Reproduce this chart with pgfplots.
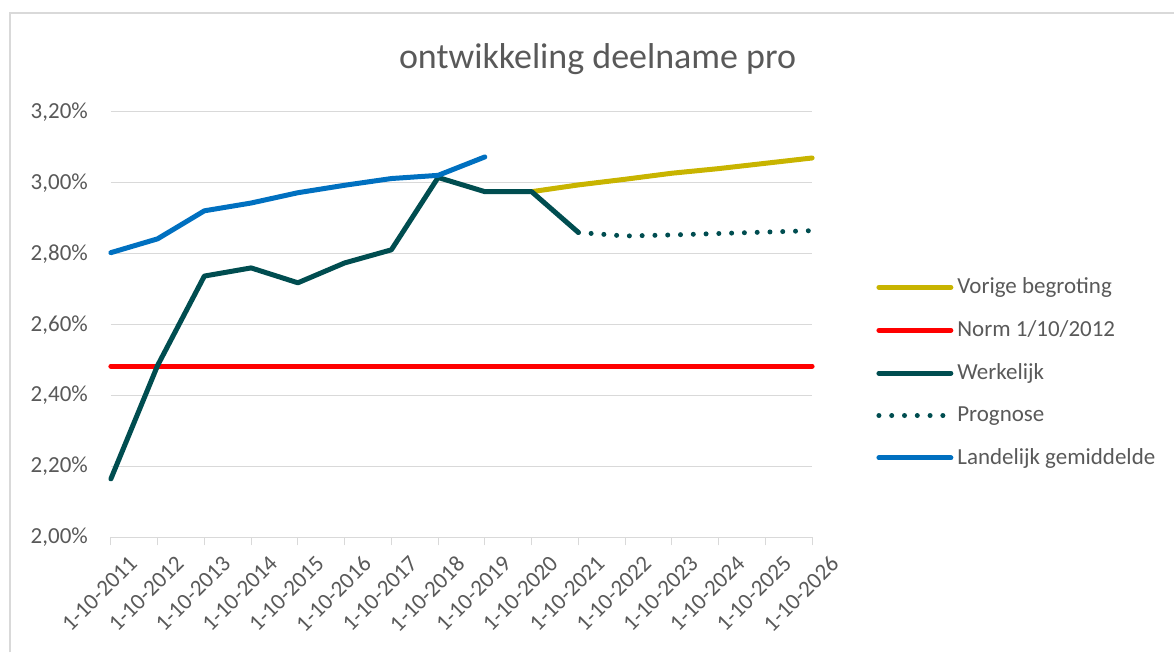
\documentclass[border=0pt]{standalone}
\usepackage{fontspec}
\setmainfont{Carlito}
\usepackage{pgfplots}
\pgfplotsset{compat=1.18}

\definecolor{txtgray}{HTML}{595959}
\definecolor{gridgray}{HTML}{D9D9D9}
\definecolor{vorige}{HTML}{C8B400}
\definecolor{norm}{HTML}{FF0000}
\definecolor{werk}{HTML}{004D50}
\definecolor{land}{HTML}{0070C0}

\begin{document}
\begin{tikzpicture}
\begin{axis}[
  scale only axis,
  width=351pt, height=213pt,
  xmin=0, xmax=15, ymin=2.0, ymax=3.2,
  clip=false,
  axis x line*=bottom, axis y line*=left,
  x axis line style={gridgray, line width=0.6pt},
  y axis line style={draw=none},
  xtick={0,...,15},
  xticklabels={1-10-2011,1-10-2012,1-10-2013,1-10-2014,1-10-2015,1-10-2016,1-10-2017,1-10-2018,
               1-10-2019,1-10-2020,1-10-2021,1-10-2022,1-10-2023,1-10-2024,1-10-2025,1-10-2026},
  xticklabel style={rotate=45, anchor=north east, font=\fontsize{11.5}{13}\selectfont, text=txtgray, inner sep=1pt, xshift=4pt, yshift=-8pt},
  major tick length=4pt,
  tick align=outside,
  x tick style={gridgray, line width=0.6pt},
  y tick style={draw=none},
  ytick={2.0,2.2,2.4,2.6,2.8,3.0,3.2},
  yticklabels={{2,00\%},{2,20\%},{2,40\%},{2,60\%},{2,80\%},{3,00\%},{3,20\%}},
  yticklabel style={font=\fontsize{11.5}{13}\selectfont, text=txtgray, xshift=-4pt},
  ymajorgrids, grid style={gridgray, line width=0.6pt},
  title={ontwikkeling deelname pro},
  title style={at={(rel axis cs:0.694,1.097)}, anchor=center, font=\fontsize{18}{21}\selectfont, text=txtgray},
  legend style={at={(rel axis cs:1,0.5)}, anchor=west, xshift=29pt, yshift=-24pt,
                draw=none, fill=none, row sep=8pt, font=\fontsize{11.5}{13}\selectfont, text=txtgray,
                cells={anchor=west}},
  legend image code/.code={\draw[#1] (0pt,0pt) -- (36pt,0pt);},
  every axis plot/.append style={line width=2.5pt, line cap=round, line join=round},
]
\addplot[vorige] coordinates {(9,2.975) (10,2.994) (11,3.010) (12,3.027) (13,3.040) (14,3.055) (15,3.070)};
\addlegendentry{Vorige begroting}
\addplot[norm] coordinates {(0,2.483) (15,2.483)};
\addlegendentry{Norm 1/10/2012}
\addplot[werk] coordinates {(0,2.165) (1,2.485) (2,2.737) (3,2.760) (4,2.718) (5,2.774) (6,2.811) (7,3.015) (8,2.975) (9,2.975) (10,2.860)};
\addlegendentry{Werkelijk}
\addplot[werk, dash pattern=on 0pt off 6.4pt] coordinates {(10,2.860) (11,2.850) (12,2.853) (13,2.857) (14,2.861) (15,2.865)};
\addlegendentry{Prognose}
\addplot[land] coordinates {(0,2.803) (1,2.842) (2,2.921) (3,2.943) (4,2.972) (5,2.993) (6,3.012) (7,3.021) (8,3.073)};
\addlegendentry{Landelijk gemiddelde}
% chart frame and page size
\draw[gridgray, line width=1.3pt] (rel axis cs:0,0) ++(-50.5pt,-57.5pt) -- ++(0pt,320pt) -- ++(582.5pt,0pt);
\path (rel axis cs:0,0) ++(-55.5pt,-57.5pt) rectangle ++(587.5pt,326.5pt);
\end{axis}
\end{tikzpicture}
\end{document}
